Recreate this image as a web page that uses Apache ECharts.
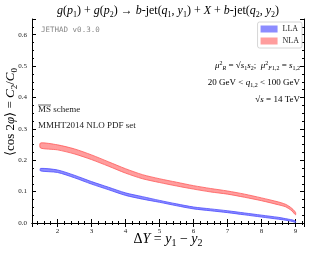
<!DOCTYPE html>
<html><head><meta charset="utf-8">
<script src="https://cdn.jsdelivr.net/npm/echarts@6/dist/echarts.min.js"></script>
<style>html,body{margin:0;padding:0;background:#fff}#c{width:310px;height:253px}</style>
</head><body><div id="c"></div>
<script>
const xs = [1.5,2,2.5,3,3.5,4,4.5,5,5.5,6,6.5,7,7.5,8,8.5,8.7,8.8,8.9,9];
const nlaLow  = [0.239,0.233,0.220,0.202,0.181,0.159,0.141,0.129,0.118,0.108,0.099,0.092,0.082,0.071,0.058,0.052,0.046,0.038,0.026];
const nlaHigh = [0.255,0.249,0.236,0.217,0.195,0.173,0.154,0.141,0.130,0.119,0.110,0.102,0.092,0.080,0.067,0.060,0.054,0.046,0.034];
const llaLow  = [0.166,0.161,0.144,0.124,0.106,0.088,0.076,0.066,0.055,0.045,0.039,0.033,0.026,0.019,0.012,0.009,0.007,0.005,0.002];
const llaHigh = [0.174,0.169,0.152,0.132,0.114,0.096,0.084,0.072,0.061,0.051,0.045,0.039,0.032,0.025,0.018,0.014,0.012,0.010,0.006];
const seriesNames = ['LLA','NLA'];
const xTicks = [2,3,4,5,6,7,8,9];
const yTicks = [0.0,0.1,0.2,0.3,0.4,0.5,0.6];

const serif = 'Liberation Serif';
const blue = '#4b4bff', red = '#ff5a5a';
const chart = echarts.init(document.getElementById('c'));

function bandSeries(name, low, high, color, fill) {
  return {
    name: name, type: 'custom', silent: true, z: 3,
    itemStyle: { color: fill },
    data: xs.map((x, i) => [x, low[i], high[i]]),
    encode: { x: 0, y: [1, 2] },
    renderItem: function (params, api) {
      if (params.dataIndex !== 0) return null;
      const top = xs.map((x, i) => api.coord([x, high[i]]));
      const bot = xs.map((x, i) => api.coord([x, low[i]])).reverse();
      return { type: 'group', children: [
        { type: 'polygon', shape: { points: top.concat(bot), smooth: 0.25 }, style: { fill: fill, stroke: color, lineWidth: 0.8 } }
      ] };
    }
  };
}
const axisCommon = {
  axisLine: { show: true, lineStyle: { color: '#000', width: 1 } },
  axisTick: { show: true, inside: true, length: 4, lineStyle: { color: '#000' } },
  splitLine: { show: false }
};
const xMinor = { minorTick: { show: true, splitNumber: 5, length: 2, lineStyle: { color: '#000' } } };
const yMinor = { minorTick: { show: true, splitNumber: 4, length: 2, lineStyle: { color: '#000' } } };
function mkRich(sz) {
  const s = Math.round(sz * 0.68), off = Math.round(sz * 0.55);
  return {
    n: { fontFamily: serif, fontSize: sz, fontStyle: 'normal', color: '#111' },
    i: { fontFamily: serif, fontSize: sz, fontStyle: 'italic', color: '#111' },
    sup: { fontFamily: serif, fontSize: s, fontStyle: 'normal', color: '#111', padding: [0, 0, off, 0] },
    sub: { fontFamily: serif, fontSize: s, fontStyle: 'italic', color: '#111', padding: [off, 0, 0, 0] },
    subn: { fontFamily: serif, fontSize: s, fontStyle: 'normal', color: '#111', padding: [off, 0, 0, 0] }
  };
}
const rich = mkRich(9);
chart.setOption({
  animation: false,
  grid: { left: 32, right: 6, top: 19, bottom: 30 },
  xAxis: [
    Object.assign({ type: 'value', min: 1.25, max: 9.25, splitNumber: 8, position: 'bottom',
      axisLabel: { fontFamily: serif, fontSize: 7, color: '#222', margin: 5,
        formatter: v => xTicks.includes(v) ? String(v) : '' } }, axisCommon, xMinor),
    Object.assign({ type: 'value', min: 1.25, max: 9.25, splitNumber: 8, position: 'top',
      axisLabel: { show: false } }, axisCommon, xMinor)
  ],
  yAxis: [
    Object.assign({ type: 'value', min: 0, max: 0.65, interval: 0.1, position: 'left',
      axisLabel: { fontFamily: serif, fontSize: 7, color: '#222', margin: 5,
        formatter: v => yTicks.some(t => Math.abs(t - v) < 1e-9) ? v.toFixed(1) : '' } }, axisCommon, yMinor),
    Object.assign({ type: 'value', min: 0, max: 0.65, interval: 0.1, position: 'right',
      axisLabel: { show: false } }, axisCommon, yMinor)
  ],
  legend: {
    data: seriesNames.map(n => ({ name: n, icon: 'rect' })),
    orient: 'vertical', right: 8, top: 22, itemWidth: 17, itemHeight: 7, itemGap: 4,
    padding: [3, 3, 3, 3], borderColor: '#ccc', borderWidth: 0.8, borderRadius: 2,
    backgroundColor: '#fff',
    textStyle: { fontFamily: serif, fontSize: 8, color: '#222' }
  },
  series: [
    bandSeries('NLA', nlaLow, nlaHigh, red, 'rgba(255,140,140,0.85)'),
    bandSeries('LLA', llaLow, llaHigh, blue, 'rgba(120,120,255,0.85)')
  ],
  graphic: [
    { type: 'text', x: 168, y: 11, style: {
      text: '{i|g}{n|(}{i|p}{subn|1}{n|) + }{i|g}{n|(}{i|p}{subn|2}{n|) \u2192 }{i|b}{n|-jet(}{i|q}{subn|1}{n|, }{i|y}{subn|1}{n|) + }{i|X}{n| + }{i|b}{n|-jet(}{i|q}{subn|2}{n|, }{i|y}{subn|2}{n|)}',
      rich: mkRich(12), align: 'center', verticalAlign: 'middle' } },
    { type: 'text', x: 168, y: 239, style: {
      text: '{n|\u0394}{i|Y}{n| = }{i|y}{subn|1}{n| \u2212 }{i|y}{subn|2}',
      rich: mkRich(14), align: 'center', verticalAlign: 'middle' } },
    { type: 'text', x: 11, y: 112, rotation: Math.PI / 2, style: {
      text: '{n|\u27E8cos 2}{i|\u03C6}{n|\u27E9 = }{i|C}{subn|2}{n|/}{i|C}{subn|0}',
      rich: mkRich(13), align: 'center', verticalAlign: 'middle' } },
    { type: 'text', x: 41, y: 30, style: { text: 'JETHAD v0.3.0', font: '7.5px "DejaVu Sans Mono"', fill: '#888',
      verticalAlign: 'middle' } },
    { type: 'text', x: 300, y: 66, style: {
      text: '{i|\u03BC}{sup|2}{sub|R}{n| = \u221A}{i|s}{subn|1}{i|s}{subn|2}{n|;  }{i|\u03BC}{sup|2}{sub|F}{subn|1,2}{n| = }{i|s}{subn|1,2}',
      rich: rich, align: 'right', verticalAlign: 'middle' } },
    { type: 'text', x: 300, y: 83, style: {
      text: '{n|20 GeV < }{i|q}{subn|1,2}{n| < 100 GeV}', rich: rich, align: 'right', verticalAlign: 'middle' } },
    { type: 'text', x: 300, y: 100, style: {
      text: '{n|\u221A}{i|s}{n| = 14 TeV}', rich: rich, align: 'right', verticalAlign: 'middle' } },
    { type: 'text', x: 38, y: 110, style: { text: 'MS scheme', font: '9px "' + serif + '"', fill: '#222', verticalAlign: 'middle' } },
    { type: 'line', shape: { x1: 38, y1: 105, x2: 51, y2: 105 }, style: { stroke: '#222', lineWidth: 0.7 } },
    { type: 'text', x: 38, y: 126, style: { text: 'MMHT2014 NLO PDF set', font: '9px "' + serif + '"', fill: '#222', verticalAlign: 'middle' } }
  ]
});
</script></body></html>
